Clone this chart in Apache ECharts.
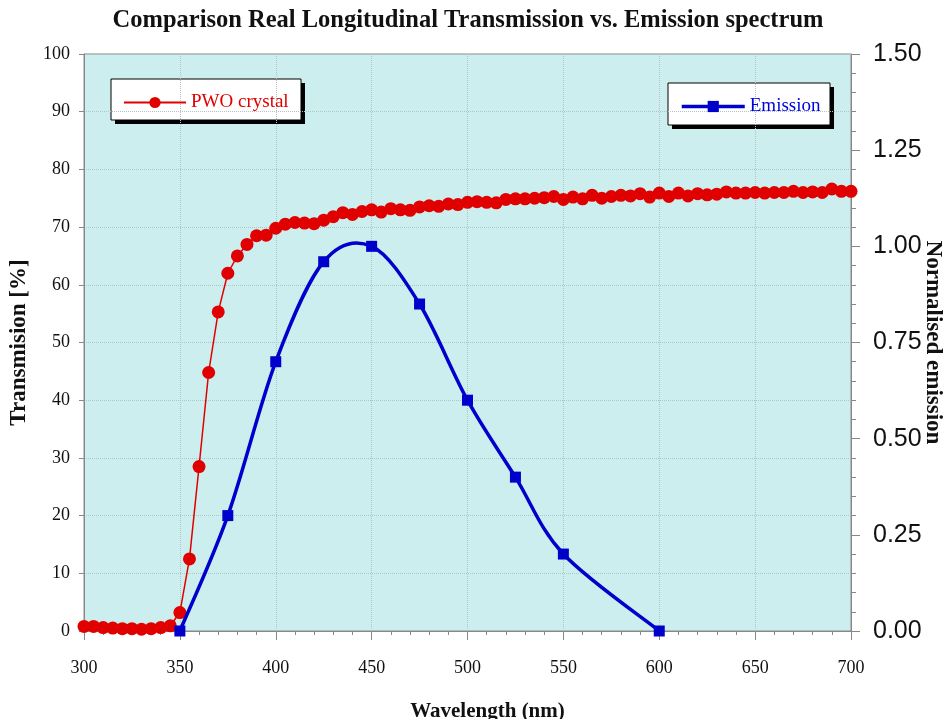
<!DOCTYPE html>
<html>
<head>
<meta charset="utf-8">
<script src="https://cdn.jsdelivr.net/npm/echarts@6/dist/echarts.min.js"></script>
<style>
html,body{margin:0;padding:0;background:#fff}
#chart{width:949px;height:719px}
</style>
</head>
<body>
<div id="chart"></div>
<script>
// transmission, measured every 5 nm from 300 to 700
var pwoStart = 300, pwoStep = 5;
var pwoValues = [
    0.8, 0.8, 0.6, 0.5, 0.4, 0.4, 0.3, 0.4, 0.6, 0.9,
    3.2, 12.5, 28.5, 44.8, 55.3, 62.0, 65.0, 67.0, 68.5, 68.6,
    69.8, 70.5, 70.8, 70.7, 70.6, 71.2, 71.8, 72.5, 72.2, 72.7,
    73.0, 72.6, 73.2, 73.0, 72.9, 73.5, 73.7, 73.6, 74.0, 73.9,
    74.3, 74.4, 74.3, 74.2, 74.8, 74.9, 74.9, 75.0, 75.1, 75.3,
    74.8, 75.2, 74.9, 75.5, 75.0, 75.3, 75.5, 75.4, 75.8, 75.2,
    75.9, 75.3, 75.9, 75.4, 75.8, 75.6, 75.7, 76.1, 75.9, 75.9,
    76.0, 75.9, 76.0, 76.0, 76.2, 76.0, 76.1, 76.0, 76.6, 76.2,
    76.2
];

// normalised emission
var emWave = [350, 375, 400, 425, 450, 475, 500, 525, 550, 600];
var emValues = [0.0, 0.30, 0.70, 0.96, 1.00, 0.85, 0.60, 0.40, 0.20, 0.0];

var pwoData = pwoValues.map(function (v, i) { return [pwoStart + i * pwoStep, v]; });
var emData = emWave.map(function (w, i) { return [w, emValues[i]]; });

var serif = '"Liberation Serif", "Times New Roman", serif';
var sans = '"Liberation Sans", Arial, sans-serif';
var red = '#e00000', blue = '#0000cc';

// legend frame with a hard black drop shadow
function legendBox(x, y, w, h) {
    return {
        type: 'group',
        z: 3,
        children: [
            { type: 'rect', shape: { x: x + 4, y: y + 4, width: w, height: h }, style: { fill: '#000' } },
            { type: 'rect', shape: { x: x, y: y, width: w, height: h }, style: { fill: '#fff', stroke: '#000', lineWidth: 1 } }
        ]
    };
}

// excel-like smoothed line (catmull-rom through the points, in pixel space)
function splineItem(params, api) {
    if (params.dataIndex !== 0) return null;
    var p = emData.map(function (d) { return api.coord(d); });
    var n = p.length;
    var d = 'M' + p[0][0] + ' ' + p[0][1];
    for (var i = 0; i < n - 1; i++) {
        var p0 = p[Math.max(i - 1, 0)], p1 = p[i], p2 = p[i + 1], p3 = p[Math.min(i + 2, n - 1)];
        var c1x = p1[0] + (p2[0] - p0[0]) / 6, c1y = p1[1] + (p2[1] - p0[1]) / 6;
        var c2x = p2[0] - (p3[0] - p1[0]) / 6, c2y = p2[1] - (p3[1] - p1[1]) / 6;
        d += ' C' + c1x + ' ' + c1y + ' ' + c2x + ' ' + c2y + ' ' + p2[0] + ' ' + p2[1];
    }
    return {
        type: 'path',
        shape: { pathData: d },
        style: { fill: null, stroke: blue, lineWidth: 3.5 }
    };
}

var myChart = echarts.init(document.getElementById('chart'));

var option = {
    backgroundColor: '#fff',
    animation: false,
    title: {
        text: 'Comparison Real Longitudinal Transmission vs. Emission spectrum',
        left: 463,
        textAlign: 'center',
        top: 3,
        textStyle: { fontFamily: serif, fontWeight: 'bold', fontSize: 24.5, color: '#111' }
    },
    graphic: [
        legendBox(111, 79, 190, 41),
        legendBox(668, 83, 162, 42)
    ],
    legend: [
        {
            data: ['PWO crystal'],
            left: 123, top: 93,
            padding: 0,
            itemWidth: 62, itemHeight: 14, itemGap: 6,
            z: 5,
            textStyle: { fontFamily: serif, fontSize: 19, color: red }
        },
        {
            data: [{ name: 'Emission', lineStyle: { color: blue, width: 3.5, opacity: 1 } }],
            left: 680, top: 97,
            padding: 0,
            itemWidth: 63, itemHeight: 14, itemGap: 6,
            z: 5,
            textStyle: { fontFamily: serif, fontSize: 19, color: '#0000dd' }
        }
    ],
    grid: {
        left: 84, right: 98, top: 54, bottom: 88,
        outerBoundsMode: 'none',
        containLabel: false,
        show: true,
        backgroundColor: '#cdeeee',
        borderColor: '#888',
        borderWidth: 1
    },
    xAxis: {
        type: 'value',
        min: 300, max: 700, interval: 50,
        name: 'Wavelength (nm)',
        nameLocation: 'middle',
        nameGap: 70,
        nameTextStyle: { fontFamily: serif, fontWeight: 'bold', fontSize: 21, color: '#111', padding: [0, 0, 0, 40] },
        axisLine: { lineStyle: { color: '#888' } },
        axisTick: { length: 9, lineStyle: { color: '#888' } },
        minorTick: { show: true, splitNumber: 5, length: 4, lineStyle: { color: '#888' } },
        axisLabel: { margin: 28, fontFamily: serif, fontSize: 18, color: '#111' },
        splitLine: { show: true, lineStyle: { type: 'dotted', color: '#b0c4c4' } }
    },
    yAxis: [
        {
            type: 'value',
            min: 0, max: 100, interval: 10,
            name: 'Transmision [%]',
            nameLocation: 'middle',
            nameGap: 53,
            nameTextStyle: { fontFamily: serif, fontWeight: 'bold', fontSize: 23, color: '#111' },
            axisLine: { show: true, lineStyle: { color: '#888' } },
            axisTick: { show: true, length: 5, lineStyle: { color: '#888' } },
            axisLabel: { margin: 14, fontFamily: serif, fontSize: 18, color: '#111' },
            splitLine: { show: true, lineStyle: { type: 'dotted', color: '#b0c4c4' } }
        },
        {
            type: 'value',
            min: 0, max: 1.5, interval: 0.25,
            position: 'right',
            name: 'Normalised emission',
            nameLocation: 'middle',
            nameGap: 70,
            nameMoveOverlap: false,
            nameRotate: -90,
            nameTextStyle: { fontFamily: serif, fontWeight: 'bold', fontSize: 23, color: '#111' },
            axisLine: { show: true, lineStyle: { color: '#888' } },
            axisTick: { show: true, length: 9, lineStyle: { color: '#888' } },
            minorTick: { show: true, splitNumber: 5, length: 5, lineStyle: { color: '#888' } },
            axisLabel: {
                margin: 22, fontFamily: sans, fontSize: 25, color: '#111',
                formatter: function (v) { return v.toFixed(2); }
            },
            splitLine: { show: false }
        }
    ],
    series: [
        {
            name: 'PWO crystal',
            type: 'line',
            yAxisIndex: 0,
            data: pwoData,
            symbol: 'circle',
            symbolSize: 13,
            itemStyle: { color: red },
            lineStyle: { color: red, width: 1.5 },
            z: 2
        },
        {
            name: 'emission curve',
            type: 'custom',
            yAxisIndex: 1,
            data: emData,
            renderItem: splineItem,
            silent: true,
            clip: true,
            z: 3
        },
        {
            name: 'Emission',
            type: 'line',
            yAxisIndex: 1,
            data: emData,
            symbol: 'rect',
            symbolSize: 11,
            itemStyle: { color: blue },
            lineStyle: { color: blue, width: 3.5, opacity: 0 },
            z: 4
        }
    ]
};

myChart.setOption(option);
</script>
</body>
</html>
